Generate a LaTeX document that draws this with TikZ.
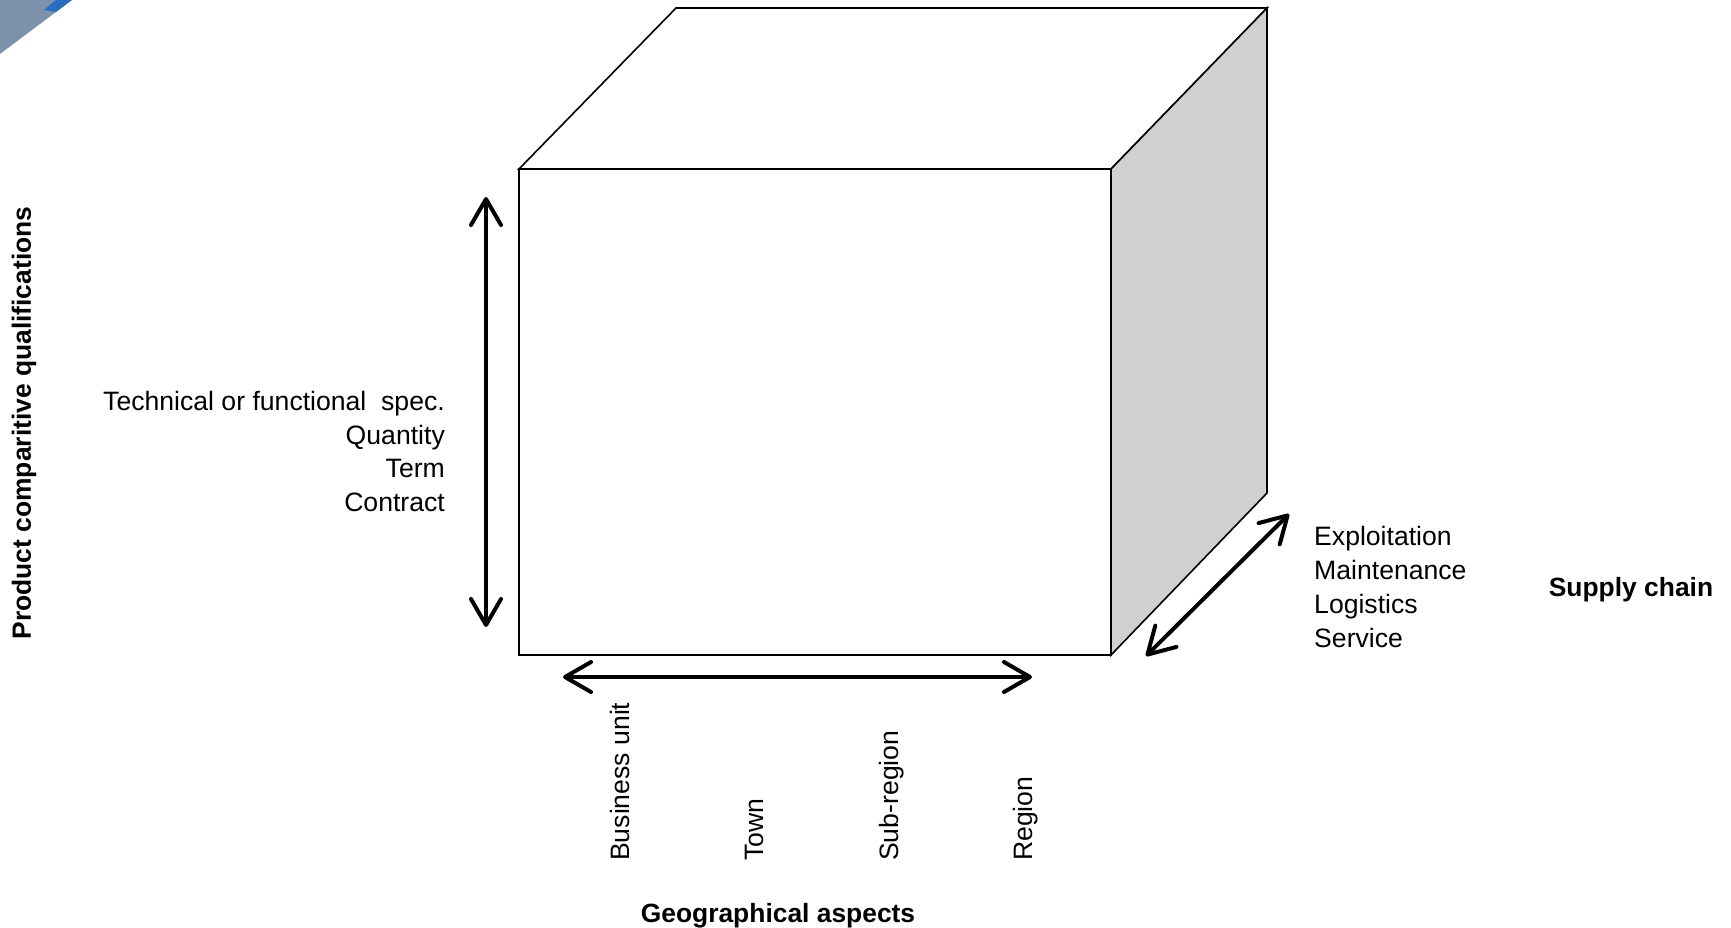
\documentclass[tikz,border=0pt]{standalone}
\usepackage{fontspec}
\setmainfont{Liberation Sans}
\usetikzlibrary{arrows.meta}
\tikzset{
  cubeline/.style={draw=black, line width=1.6pt, line join=miter},
  axisarrow/.style={line width=4pt, line cap=round, {Straight Barb[length=26pt,width=30pt,line width=4pt,round]}-{Straight Barb[length=26pt,width=30pt,line width=4pt,round]}},
  lbl/.style={font=\fontsize{26.6}{34}\selectfont, inner sep=0pt},
  ttl/.style={font=\fontsize{26.4}{30}\selectfont\bfseries, inner sep=0pt},
  rlbl/.style={lbl, rotate=90, anchor=west}
}
\begin{document}
\begin{tikzpicture}[x=1pt,y=-1pt]
\useasboundingbox (0,0) rectangle (1731,928);
\fill[white] (0,0) rectangle (1731,928);
% corner artifact
\fill[color={rgb,255:red,125;green,145;blue,172}] (0,0) -- (72,0) -- (0,54) -- cycle;
\fill[color={rgb,255:red,40;green,110;blue,190}] (56,0) -- (72,0) -- (56,12) -- (44,10) -- cycle;
% cube corners
\coordinate (F1) at (519,169);
\coordinate (F2) at (1111,169);
\coordinate (F3) at (1111,655);
\coordinate (F4) at (519,655);
\coordinate (B1) at (676,8);
\coordinate (B2) at (1267,8);
\coordinate (B3) at (1267,493);
\path[cubeline, fill=white] (F1) -- (B1) -- (B2) -- (F2) -- cycle;
\path[cubeline, fill={rgb,255:red,208;green,208;blue,208}] (F2) -- (B2) -- (B3) -- (F3) -- cycle;
\path[cubeline, fill=white] (F1) rectangle (F3);
% axis arrows
\coordinate (va) at (486,197);
\coordinate (vb) at (486,627);
\draw[axisarrow] (va) -- (vb);
\coordinate (ha) at (563,677);
\coordinate (hb) at (1032,677);
\draw[axisarrow] (ha) -- (hb);
\coordinate (da) at (1146,656);
\coordinate (db) at (1289,514);
\draw[axisarrow] (da) -- (db);
% left labels
\node[lbl, anchor=base east] (spec) at (445,410) {Technical or functional\ \ spec.};
\node[lbl, anchor=base east] (qty) at (445,444) {Quantity};
\node[lbl, anchor=base east] (term) at (445,477) {Term};
\node[lbl, anchor=base east] (contract) at (445,511) {Contract};
\node[ttl, rotate=90] (pcq) at (24,423) {Product comparitive qualifications};
% bottom labels
\node[rlbl] (bu) at (620,861) {Business unit};
\node[rlbl] (town) at (754,861) {Town};
\node[rlbl] (subr) at (892,861) {Sub-region};
\node[rlbl] (reg) at (1026,861) {Region};
\node[ttl] (geo) at (778,916) {Geographical aspects};
% right labels
\node[lbl, anchor=base west] (expl) at (1314,545) {Exploitation};
\node[lbl, anchor=base west] (maint) at (1314,579) {Maintenance};
\node[lbl, anchor=base west] (logi) at (1314,613) {Logistics};
\node[lbl, anchor=base west] (serv) at (1314,647) {Service};
\node[ttl] (sc) at (1631,590) {Supply chain};
\end{tikzpicture}
\end{document}
